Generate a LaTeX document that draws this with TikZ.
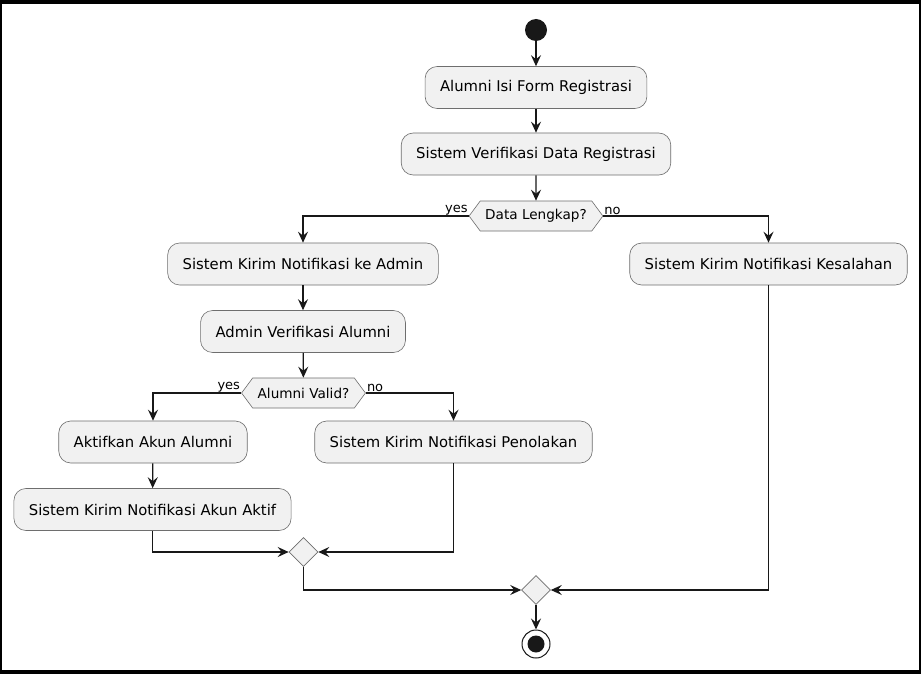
\documentclass[tikz,border=0pt]{standalone}
\usepackage{fontspec}
\setmainfont{DejaVu Sans}
\usetikzlibrary{arrows.meta}
\usetikzlibrary{shapes.geometric,shapes.symbols}
\usetikzlibrary{positioning}

\definecolor{boxfill}{HTML}{F1F1F1}
\definecolor{boxline}{HTML}{6E6E6E}
\definecolor{flowline}{HTML}{181818}

\begin{document}
\begin{tikzpicture}[x=1pt,y=-1pt,
		act/.style={draw=boxline, fill=boxfill, line width=0.6pt, rounded corners=12pt, minimum height=42pt, inner xsep=15pt, font=\fontsize{14.8}{17}\selectfont},
		cond/.style={signal, signal to=west and east, signal pointer angle=107, draw=boxline, fill=boxfill, line width=0.6pt, minimum height=30pt, inner xsep=5pt, inner ysep=0pt, font=\fontsize{13.6}{16}\selectfont},
		merge/.style={diamond, draw=boxline, fill=boxfill, line width=0.6pt, minimum width=29pt, minimum height=29pt, inner sep=0pt},
		flow/.style={draw=flowline, line width=1.3pt, -{Stealth[length=11pt,width=10pt,inset=4pt]}},
		lbl/.style={font=\fontsize{13}{15}\selectfont, inner sep=1pt}]
		% frame
		\fill [black] (0,0) rectangle (921,674);
		\fill [white] (1.5,4.5) rectangle (918.5,670);
		% main column
		\node[circle, fill=flowline, minimum size=22pt, inner sep=0pt] (start) at (536,30) {};
		\node[act] (isiform) at (536,87.5) {Alumni Isi Form Registrasi};
		\node[act] (verifdata) at (536,154) {Sistem Verifikasi Data Registrasi};
		\node[cond] (lengkap) at (536,216) {Data Lengkap?};
		\node[act] (kirimadmin) at (303,264) {Sistem Kirim Notifikasi ke Admin};
		\node[act] (kirimsalah) at (768.5,264) {Sistem Kirim Notifikasi Kesalahan};
		\node[act] (verifalumni) at (303,331.5) {Admin Verifikasi Alumni};
		\node[cond] (valid) at (303.5,393) {Alumni Valid?};
		\node[act] (aktifkan) at (153,442) {Aktifkan Akun Alumni};
		\node[act] (kirimtolak) at (453.5,442) {Sistem Kirim Notifikasi Penolakan};
		\node[act] (kirimaktif) at (152.5,509.5) {Sistem Kirim Notifikasi Akun Aktif};
		\node[merge] (gabungA) at (303.5,552) {};
		\node[merge] (gabungB) at (536,590) {};
		\node[circle, draw=flowline, fill=white, line width=1pt, minimum size=28pt, inner sep=0pt] (stop) at (536,644) {};
		\node[circle, fill=flowline, minimum size=17pt, inner sep=0pt] (stopdot) at (stop) {};
		% branch labels
		\node[lbl, anchor=south east] (yesA) at (lengkap.west) {yes};
		\node[lbl, anchor=south west] (noA) at (lengkap.east) {no};
		\node[lbl, anchor=south east] (yesB) at (valid.west) {yes};
		\node[lbl, anchor=south west] (noB) at (valid.east) {no};
		% connectors
		\draw [flow] (start) -- (isiform);
		\draw [flow] (isiform) -- (verifdata);
		\draw [flow] (verifdata) -- (lengkap);
		\draw [flow] (lengkap.west) -| (kirimadmin.north);
		\draw [flow] (lengkap.east) -| (kirimsalah.north);
		\draw [flow] (kirimadmin) -- (verifalumni);
		\draw [flow] (verifalumni) -- (valid);
		\draw [flow] (valid.west) -| (aktifkan.north);
		\draw [flow] (valid.east) -| (kirimtolak.north);
		\draw [flow] (aktifkan) -- (kirimaktif);
		\draw [flow] (kirimaktif.south) |- (gabungA.west);
		\draw [flow] (kirimtolak.south) |- (gabungA.east);
		\draw [flow] (gabungA.south) |- (gabungB.west);
		\draw [flow] (kirimsalah.south) |- (gabungB.east);
		\draw [flow] (gabungB) -- (stop);
	\end{tikzpicture}
\end{document}
